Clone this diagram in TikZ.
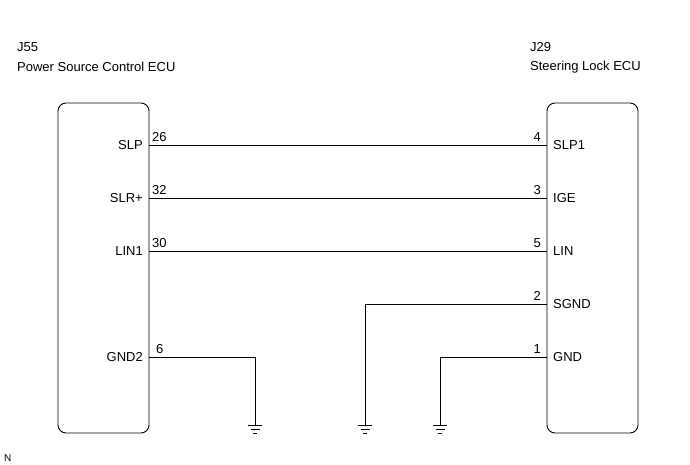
\documentclass[tikz,border=0pt]{standalone}
\usepackage{fontspec}
\setmainfont{Liberation Sans}
\begin{document}
\begin{tikzpicture}[x=1pt,y=-1pt,
  box/.style={draw,line width=0.9pt,rounded corners=8pt},
  wire/.style={line width=0.6pt},
  lbl/.style={font=\fontsize{13}{14}\selectfont,inner sep=0pt},
  gnd/.pic={\draw[line width=0.6pt] (-7,0)--(7,0) (-4.5,4)--(4.5,4) (-2,8)--(2,8);}]
\useasboundingbox (0,0) rectangle (690,465);
\node[lbl,anchor=west] (t1) at (17,47) {J55};
\node[lbl,anchor=west] (t2) at (17,67) {Power Source Control ECU};
\node[lbl,anchor=west] (t3) at (530,47) {J29};
\node[lbl,anchor=west] (t4) at (530,67) {Steering Lock ECU};
\node[lbl,anchor=west,font=\fontsize{10}{11}\selectfont] (n) at (4,458) {N};
\draw[box] (58,103) rectangle (149,433);
\draw[box] (547,103) rectangle (638,433);
\foreach \y/\ln/\lp/\rn/\rp in {145/SLP/26/SLP1/4,198/SLR+/32/IGE/3,251/LIN1/30/LIN/5}{
  \draw[wire] (149,\y) -- (547,\y);
  \node[lbl,anchor=east] at (143,\y) {\ln};
  \node[lbl,anchor=south west] at (152,\y-3) {\lp};
  \node[lbl,anchor=west] at (553,\y) {\rn};
  \node[lbl,anchor=south east] at (541,\y-3) {\rp};
}
\node[lbl,anchor=east] at (143,357) {GND2};
\node[lbl,anchor=south west] at (156,354) {6};
\draw[wire] (149,357) -- (255,357) -- (255,425);
\pic at (255,425) {gnd};
\node[lbl,anchor=west] at (553,304) {SGND};
\node[lbl,anchor=south east] at (541,301) {2};
\draw[wire] (547,304) -- (365,304) -- (365,425);
\pic at (365,425) {gnd};
\node[lbl,anchor=west] at (553,357) {GND};
\node[lbl,anchor=south east] at (541,354) {1};
\draw[wire] (547,357) -- (440,357) -- (440,425);
\pic at (440,425) {gnd};
\end{tikzpicture}
\end{document}
